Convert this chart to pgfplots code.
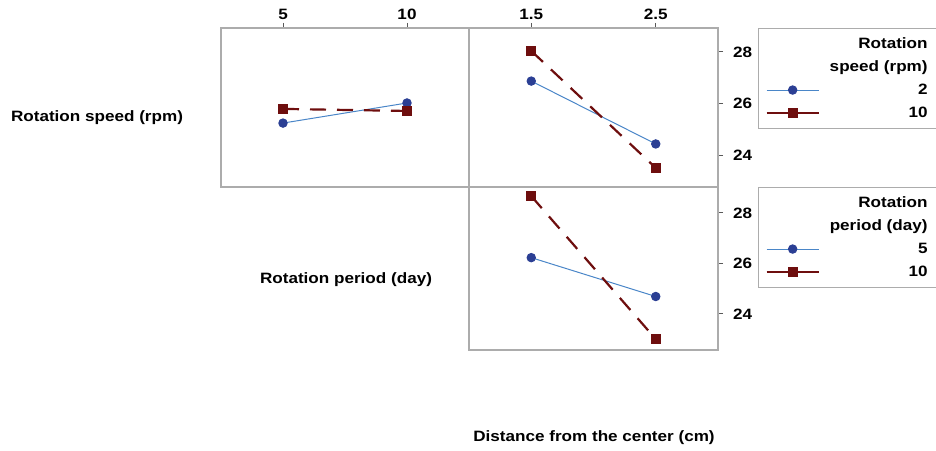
\documentclass[border=0pt]{standalone}
\usepackage{fontspec}
\setmainfont{Liberation Sans}[FakeStretch=1.14]
\usepackage{pgfplots}
\pgfplotsset{compat=1.18}

\definecolor{blueline}{RGB}{74,134,200}
\definecolor{bluemark}{RGB}{43,63,148}
\definecolor{redline}{RGB}{110,14,14}
\definecolor{framegray}{RGB}{172,172,172}

\newcommand{\lab}{\bfseries\fontsize{7.5}{9}\selectfont}

\pgfplotsset{
  panel/.style={
    scale only axis,
    axis line style={draw=framegray, line width=0.55pt},
    tick style={draw=black!65, line width=0.5pt},
    tick align=outside,
    major tick length=2.5pt,
    ticklabel style={font=\lab},
    /pgf/number format/assume math mode=true,
    clip=false,
  },
  spd/.style={blueline, line width=0.5pt, mark=*, mark size=2.1pt,
              mark options={draw=bluemark, fill=bluemark}},
  rpd/.style={redline, line width=1.1pt, dash pattern=on 8pt off 5.5pt,
              mark=square*, mark size=2.2pt,
              mark options={solid, draw=redline, fill=redline, line width=0.5pt}},
  leg/.style={
    legend cell align=right,
    legend image code/.code={
      \draw[##1, solid, mark repeat=2, mark phase=2]
        plot coordinates {(0pt,0pt)(13pt,0pt)(26pt,0pt)};},
    legend style={at={(1.1606,1)}, anchor=north west, draw=framegray,
      line width=0.55pt, font=\lab, inner xsep=3.5pt, inner ysep=4pt,
      row sep=4pt,
      nodes={inner sep=0pt, text height=6pt, text depth=1.5pt},
      /tikz/every odd column/.append style={column sep=5pt}},
  },
}

\begin{document}
\begin{tikzpicture}
\path[use as bounding box, clip] (0,0) rectangle (468pt,225pt);

% top left: rotation speed over rotation period
\begin{axis}[panel, at={(110.5pt,211pt)}, anchor=north west,
  width=124pt, height=79.5pt,
  xmin=2.5, xmax=12.5, ymin=22.76, ymax=28.93,
  xtick={5,10}, xtick pos=right, xticklabel pos=right,
  xticklabel style={yshift=-2pt},
  ytick=\empty]
\addplot[spd] coordinates {(5,25.24)(10,26.02)};
\addplot[rpd] coordinates {(5,25.79)(10,25.71)};
\end{axis}

% top right: rotation speed over distance
\begin{axis}[panel, leg, at={(234.5pt,211pt)}, anchor=north west,
  width=124.5pt, height=79.5pt,
  xmin=1, xmax=3, ymin=22.76, ymax=28.93,
  xtick={1.5,2.5}, xtick pos=right, xticklabel pos=right,
  xticklabel style={yshift=-2pt, /pgf/number format/.cd, fixed, precision=1},
  ytick={24,26,28}, ytick pos=right, yticklabel pos=right,
  yticklabel style={xshift=1.5pt}]
\addlegendimage{empty legend}\addlegendentry{Rotation\hspace*{14pt}}
\addlegendimage{empty legend}\addlegendentry{speed (rpm)\hspace*{14pt}}
\addplot[spd] coordinates {(1.5,26.87)(2.5,24.43)};
\addlegendentry{2\hspace*{14pt}}
\addplot[rpd] coordinates {(1.5,28.04)(2.5,23.50)};
\addlegendentry{10\hspace*{14pt}}
\end{axis}

% bottom right: rotation period over distance
\begin{axis}[panel, leg, at={(234.5pt,131.5pt)}, anchor=north west,
  width=124.5pt, height=81.5pt,
  xmin=1, xmax=3, ymin=22.57, ymax=29.03,
  xtick=\empty,
  ytick={24,26,28}, ytick pos=right, yticklabel pos=right,
  yticklabel style={xshift=1.5pt}]
\addlegendimage{empty legend}\addlegendentry{Rotation\hspace*{14pt}}
\addlegendimage{empty legend}\addlegendentry{period (day)\hspace*{14pt}}
\addplot[spd] coordinates {(1.5,26.23)(2.5,24.69)};
\addlegendentry{5\hspace*{14pt}}
\addplot[rpd] coordinates {(1.5,28.67)(2.5,23.00)};
\addlegendentry{10\hspace*{14pt}}
\end{axis}

\node[font=\lab] at (48.5pt,166pt) {Rotation speed (rpm)};
\node[font=\lab] at (173pt,85pt) {Rotation period (day)};
\node[font=\lab] at (297pt,6pt) {Distance from the center (cm)};
\end{tikzpicture}
\end{document}
